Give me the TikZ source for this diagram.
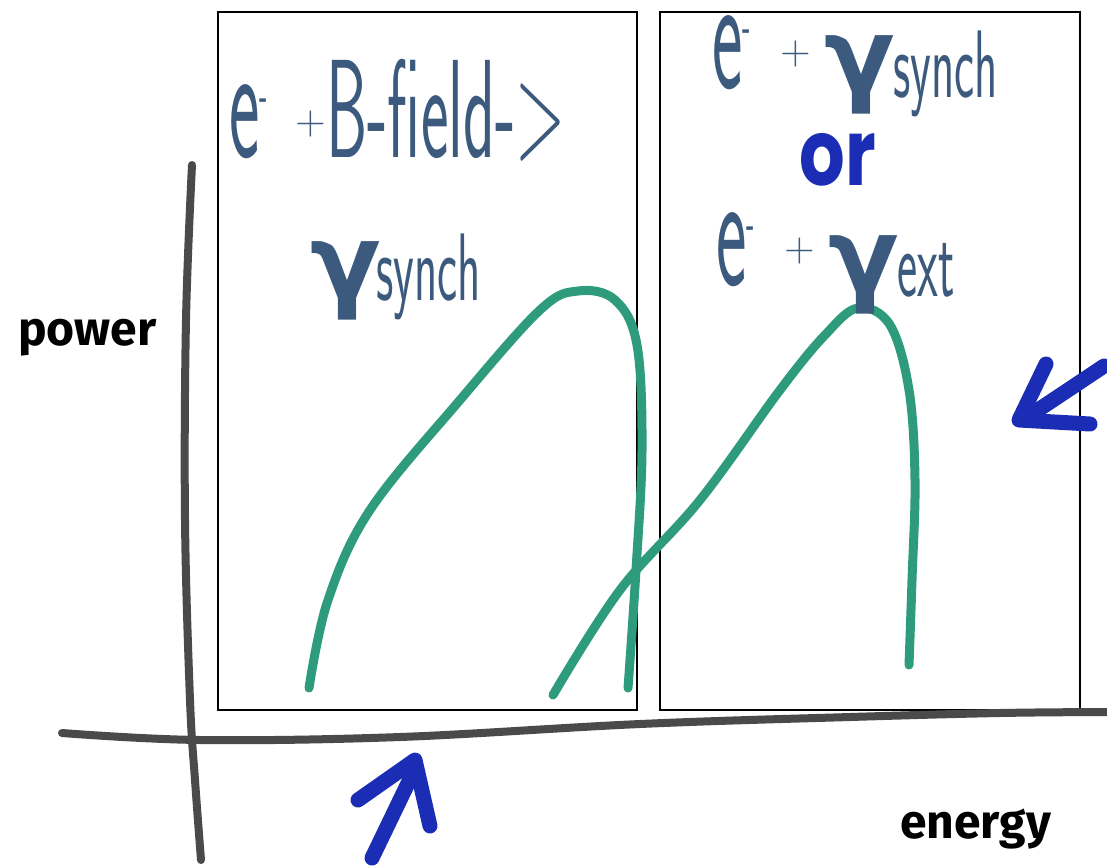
\documentclass[tikz,border=0pt]{standalone}
\usepackage{fontspec}
\setmainfont{Lato}
\newfontfamily\greekfont{DejaVu Sans}
\newfontfamily\handfont{Fira Sans}
\newfontfamily\orfont{Poppins}
\usetikzlibrary{positioning}
\definecolor{cLabel}{HTML}{3B5A7D}
\definecolor{cCurve}{HTML}{2E9C7C}
\definecolor{cMark}{HTML}{1B2DB4}
\definecolor{cAxis}{HTML}{4A4A4A}
\newcommand{\slim}[1]{\smash{\scalebox{0.44}[1]{\sffamily #1}}}
\newcommand{\midslim}[1]{\smash{\scalebox{0.5}[1]{\sffamily #1}}}
\newcommand{\esz}{\fontsize{165}{165}\selectfont}
\newcommand{\bigsz}{\fontsize{140}{140}\selectfont}
\newcommand{\midsz}{\fontsize{96}{96}\selectfont}
\newcommand{\plus}{{\sffamily\fontsize{42}{42}\selectfont +}}
\newcommand{\minus}{\raisebox{44pt}{\fontsize{60}{60}\selectfont -}}
\newcommand{\gam}{\smash{\greekfont\bfseries\fontsize{104}{104}\selectfont γ}}

\begin{document}
\begin{tikzpicture}[
    x=1pt, y=-1pt,
    panel/.style={draw=black, line width=1.8pt, inner sep=0pt},
    lbl/.style={text=cLabel, inner sep=0pt, anchor=base west},
    plusmark/.style={text=cLabel, inner sep=0pt},
    axis/.style={draw=cAxis, line width=8pt, line cap=round},
    spectrum/.style={draw=cCurve, line width=9pt, line cap=round, line join=round},
    scribble/.style={draw=cMark, line width=15pt, line cap=round, line join=round},
    hand/.style={text=black, inner sep=0pt, anchor=base west,
                 font=\handfont\bfseries\fontsize{48}{48}\selectfont}
]
\useasboundingbox (0,0) rectangle (1107,865);

% --- panels ---
\node[panel, minimum width=419pt, minimum height=698pt] (synchbox) at (427.5,361) {};
\node[panel, minimum width=420pt, minimum height=698pt] (comptbox) at (870,361) {};

% --- axes ---
\draw[axis] plot[smooth, tension=0.6] coordinates
  {(192,165) (186,320) (185,520) (190,700) (195,780) (201,860)};
\draw[axis] plot[smooth, tension=0.6] coordinates
  {(62,733) (200,740) (400,737) (640,724) (850,717) (1000,713) (1107,712)};

% --- spectra ---
\draw[spectrum] plot[smooth, tension=0.6] coordinates
  {(309,688) (328,600) (370,510) (460,400) (540,310) (578,291) (615,300) (637,345)
   (642,450) (636,570) (628,688)};
\draw[spectrum] plot[smooth, tension=0.6] coordinates
  {(553,695) (620,590) (700,500) (780,390) (825,335) (858,308) (890,325) (909,390)
   (915,480) (912,580) (909,665)};

% --- left panel text ---
\node[lbl] (ezero) at (229,157) {\slim{\esz e\minus}};
\node[plusmark] (pluszero) at (311,124) {\plus};
\node[lbl] (bfield) at (326,157) {\scalebox{0.94}[1]{\midslim{\bigsz B-field->}}};
\node[lbl] (synchgam) at (310,298) {\gam};
\node[lbl] (synchsub) at (376,300) {\midslim{\midsz synch}};

% --- right panel text ---
\node[lbl] (eone) at (712,88) {\slim{\esz e\minus}};
\node[plusmark] (plusone) at (796,54) {\plus};
\node[lbl] (gamone) at (824,92) {\gam};
\node[lbl] (synchone) at (893,97) {\midslim{\midsz synch}};
\node[text=cMark, inner sep=0pt] (orword) at (838,160)
  {\scalebox{0.78}[1]{\orfont\bfseries\fontsize{92}{92}\selectfont or}};
\node[lbl] (etwo) at (716,285) {\slim{\esz e\minus}};
\node[plusmark] (plustwo) at (800,251) {\plus};
\node[lbl] (gamtwo) at (828,292) {\gam};
\node[lbl] (extword) at (897,296) {\midslim{\midsz ext}};

% --- axis labels ---
\node[hand] (powerlbl) at (18,345) {power};
\node[hand] (energylbl) at (900,838) {energy};

% --- blue arrows ---
\draw[scribble] (372,858) -- (412,775);
\draw[scribble] (358,800) -- (415,760) -- (430,826);
\draw[scribble] (1104,366) -- (1035,412);
\draw[scribble] (1046,364) -- (1019,420) -- (1090,424);

\end{tikzpicture}
\end{document}
